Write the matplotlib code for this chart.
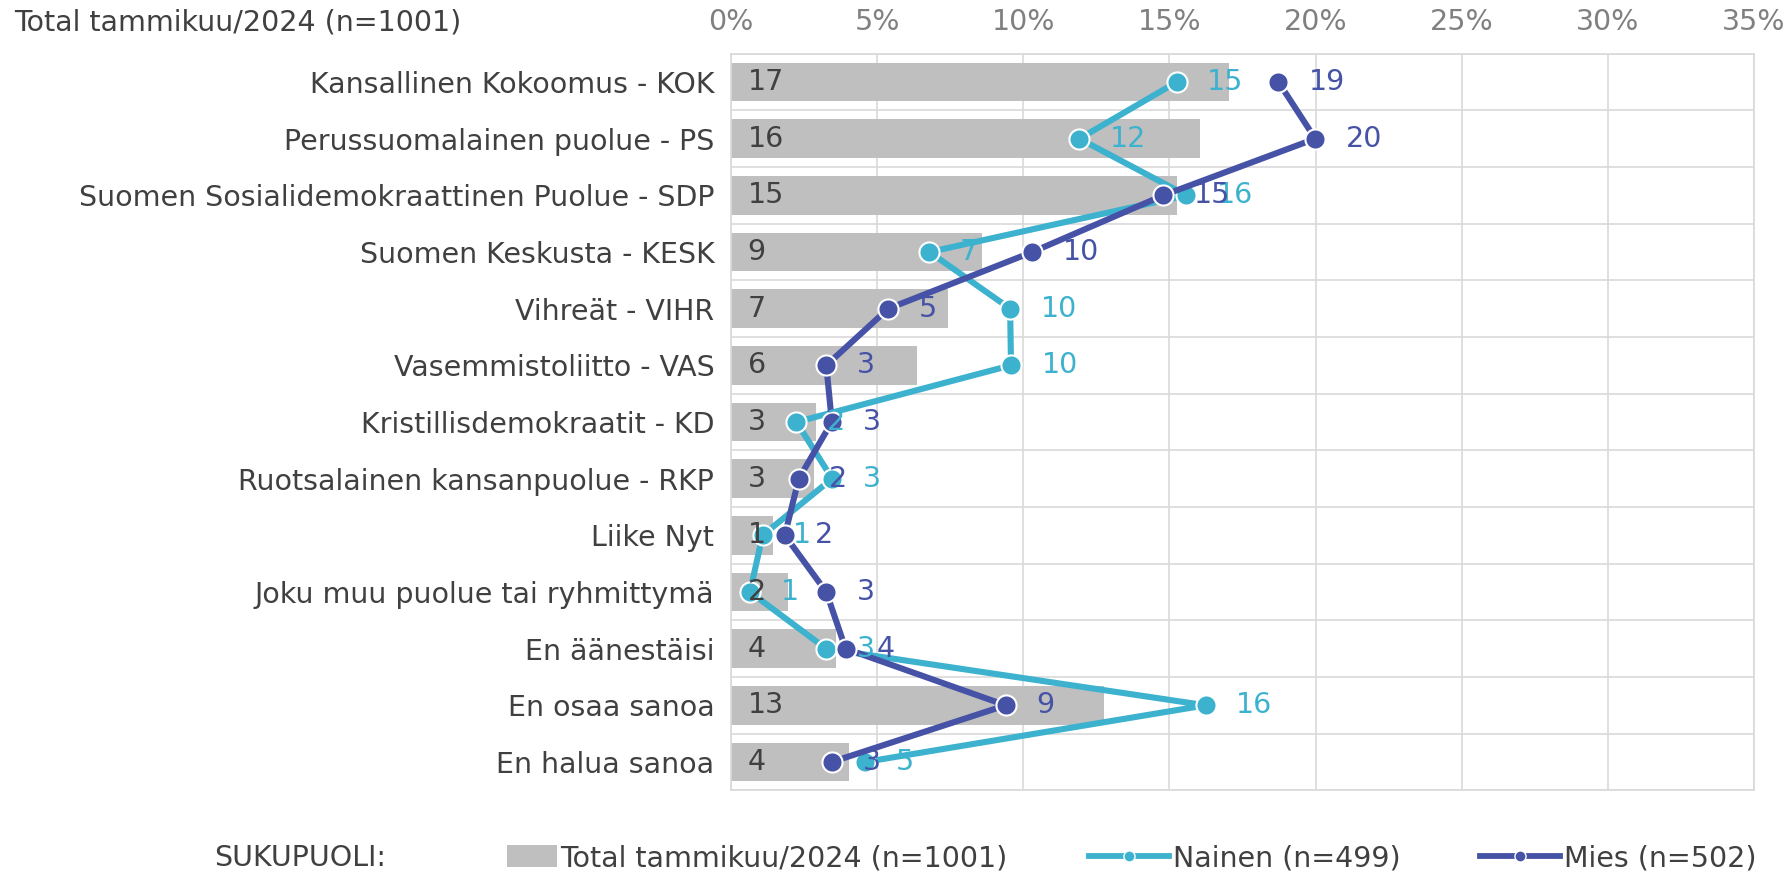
import matplotlib
matplotlib.use("Agg")
import matplotlib.pyplot as plt
from matplotlib.patches import Patch
from matplotlib.lines import Line2D
import numpy as np

categories = [
    "Kansallinen Kokoomus - KOK",
    "Perussuomalainen puolue - PS",
    "Suomen Sosialidemokraattinen Puolue - SDP",
    "Suomen Keskusta - KESK",
    "Vihreät - VIHR",
    "Vasemmistoliitto - VAS",
    "Kristillisdemokraatit - KD",
    "Ruotsalainen kansanpuolue - RKP",
    "Liike Nyt",
    "Joku muu puolue tai ryhmittymä",
    "En äänestäisi",
    "En osaa sanoa",
    "En halua sanoa",
]
total = [17.05, 16.05, 15.25, 8.59, 7.44, 6.38, 2.91, 2.85, 1.45, 1.96, 3.58, 12.77, 4.04]
nainen = [15.25, 11.92, 15.58, 6.79, 9.55, 9.58, 2.24, 3.46, 1.08, 0.65, 3.25, 16.24, 4.59]
mies = [18.73, 19.99, 14.79, 10.31, 5.38, 3.26, 3.45, 2.32, 1.84, 3.26, 3.92, 9.40, 3.45]
xticks = [0, 5, 10, 15, 20, 25, 30, 35]
xticklabels = ["0%", "5%", "10%", "15%", "20%", "25%", "30%", "35%"]
title = "Total tammikuu/2024 (n=1001)"
legend_title = "SUKUPUOLI:"
series_names = ["Total tammikuu/2024 (n=1001)", "Nainen (n=499)", "Mies (n=502)"]

C_BAR = "#BFBFBF"
C_N = "#3DB2CE"
C_M = "#4652A6"
C_TXT = "#404040"
C_GRID = "#D9D9D9"
FS = 20.5

plt.rcParams["font.family"] = ["DejaVu Sans"]

W, H = 1788, 873
fig = plt.figure(figsize=(W / 100, H / 100), dpi=100)
ax = fig.add_axes([731 / W, 1 - 790.3 / H, (1754 - 731) / W, (790.3 - 53.7) / H])

y = np.arange(len(categories))
ax.barh(y, total, height=0.68, color=C_BAR, zorder=2)
ax.plot(nainen, y, color=C_N, lw=4.4, marker="o", ms=14.5, mec="white", mew=1.5, zorder=3)
ax.plot(mies, y, color=C_M, lw=4.4, marker="o", ms=14.5, mec="white", mew=1.5, zorder=4)

def lab(v):
    return str(int(v + 0.5))

for yi, v in zip(y, total):
    ax.annotate(lab(v), (0, yi), xytext=(12, 0), textcoords="offset points",
                ha="left", va="center", color=C_TXT, fontsize=FS, zorder=6)
for yi, v in zip(y, nainen):
    ax.annotate(lab(v), (v, yi), xytext=(22, 0), textcoords="offset points",
                ha="left", va="center", color=C_N, fontsize=FS, zorder=6)
for yi, v in zip(y, mies):
    ax.annotate(lab(v), (v, yi), xytext=(22, 0), textcoords="offset points",
                ha="left", va="center", color=C_M, fontsize=FS, zorder=6)

ax.set_xlim(0, 35)
ax.set_ylim(len(categories) - 0.5, -0.5)
ax.set_xticks(xticks)
ax.set_xticklabels(xticklabels)
ax.xaxis.tick_top()
ax.tick_params(axis="x", length=0, pad=12.5, labelsize=FS, labelcolor="#808080")
ax.set_yticks(y)
ax.set_yticklabels(categories)
ax.tick_params(axis="y", length=0, pad=12, labelsize=FS, labelcolor=C_TXT)
ax.set_yticks(np.arange(len(categories) + 1) - 0.5, minor=True)
ax.tick_params(axis="y", which="minor", length=0)
ax.grid(axis="x", which="major", color=C_GRID, lw=1.2, zorder=0)
ax.grid(axis="y", which="minor", color=C_GRID, lw=1.2, zorder=0)
ax.set_axisbelow(True)
for s in ax.spines.values():
    s.set_color(C_GRID)
    s.set_linewidth(1.2)

fig.text(14 / W, 1 - 23 / H, title, ha="left", va="center", fontsize=FS, color=C_TXT)

ly = 1 - 858 / H
fig.text(214 / W, ly, legend_title, ha="left", va="center", fontsize=FS, color=C_TXT)
h1 = Patch(facecolor=C_BAR, edgecolor="none")
h2 = Line2D([], [], color=C_N, lw=4.2, marker="o", ms=8, mec="white", mew=1.0)
h3 = Line2D([], [], color=C_M, lw=4.2, marker="o", ms=8, mec="white", mew=1.0)
for h, name, x0, hl, pad in [(h1, series_names[0], 507, 1.75, 0.12),
                             (h2, series_names[1], 1089, 2.8, 0.15),
                             (h3, series_names[2], 1480, 2.8, 0.15)]:
    fig.legend([h], [name], loc="center left", bbox_to_anchor=(x0 / W, ly),
               frameon=False, fontsize=FS, handlelength=hl, handletextpad=pad,
               borderpad=0, borderaxespad=0, labelcolor=C_TXT, handleheight=0.8)

fig.savefig("out.png", dpi=100)
